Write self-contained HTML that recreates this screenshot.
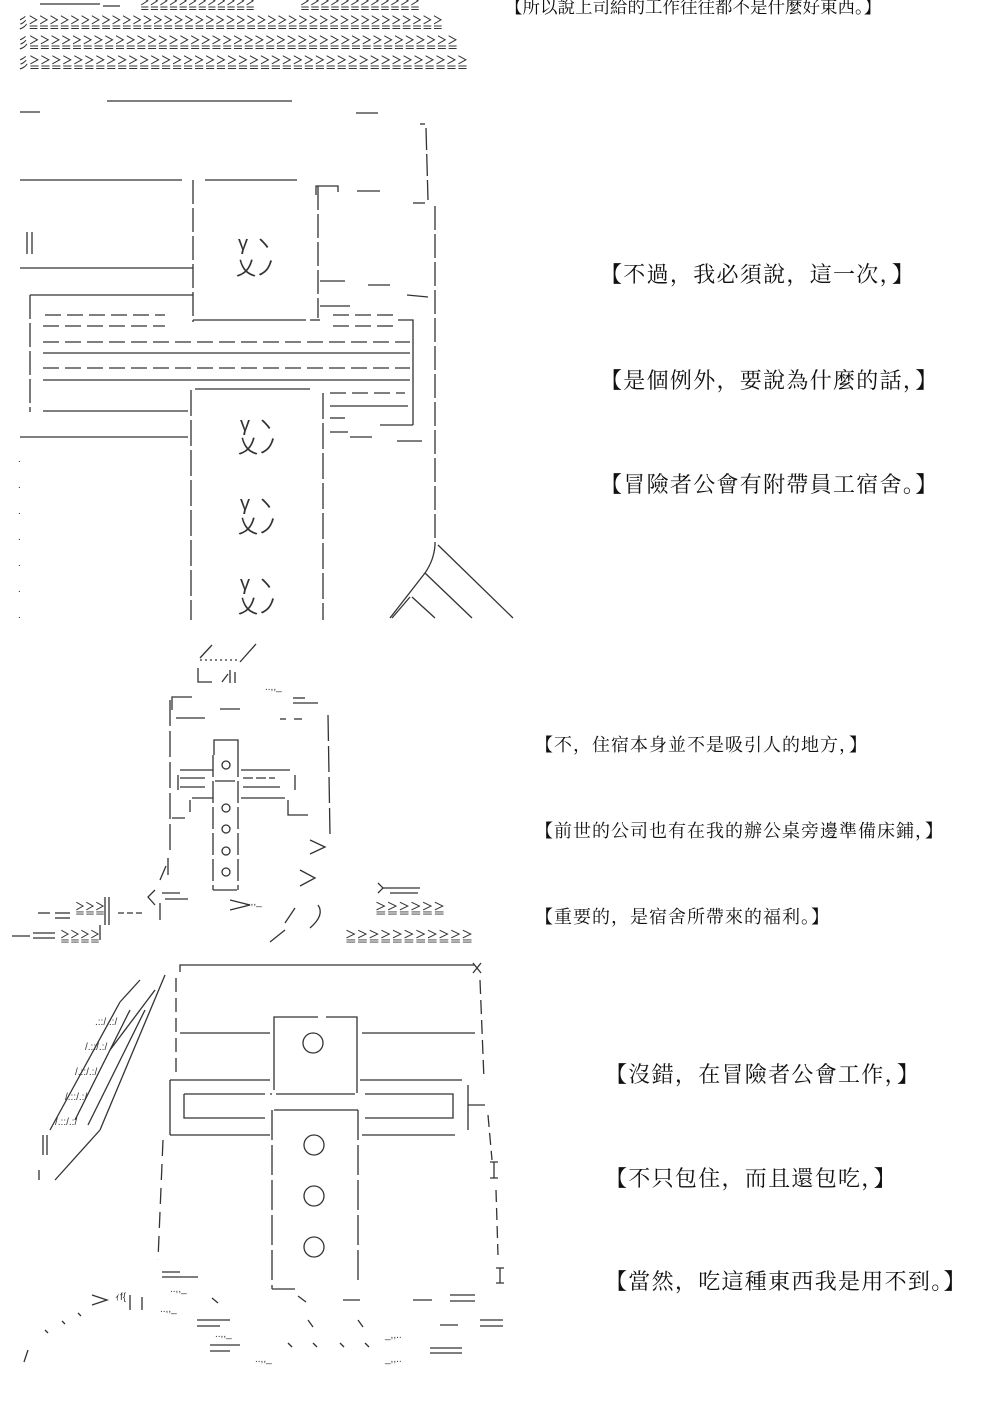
<!DOCTYPE html>
<html><head><meta charset="utf-8">
<style>
html,body{margin:0;padding:0;background:#fff;}
body{width:1000px;height:1427px;position:relative;overflow:hidden;}
.t{position:absolute;font-family:"Liberation Serif","Noto Serif CJK SC","Noto Sans CJK TC",serif;color:#111;white-space:nowrap;}
.big{font-size:22px;letter-spacing:1.3px;}
.mid{font-size:18px;letter-spacing:1px;}
svg{position:absolute;left:0;top:0;}
svg text{font-family:"Liberation Sans","Noto Sans CJK JP",sans-serif;fill:#333;}
</style></head><body>
<div class="t" style="left:505px;top:-6px;font-size:17.5px;">【所以說上司給的工作往往都不是什麼好東西。】</div>

<div class="t big" style="left:600px;top:258px;">【不過，我必須說，這一次，】</div>
<div class="t big" style="left:600px;top:364px;">【是個例外，要說為什麼的話，】</div>
<div class="t big" style="left:600px;top:468px;">【冒險者公會有附帶員工宿舍。】</div>

<div class="t mid" style="left:535px;top:731px;">【不，住宿本身並不是吸引人的地方，】</div>
<div class="t mid" style="left:535px;top:817px;">【前世的公司也有在我的辦公桌旁邊準備床鋪，】</div>
<div class="t mid" style="left:535px;top:903px;">【重要的，是宿舍所帶來的福利。】</div>

<div class="t big" style="left:605px;top:1058px;">【沒錯，在冒險者公會工作，】</div>
<div class="t big" style="left:605px;top:1162px;">【不只包住，而且還包吃，】</div>
<div class="t big" style="left:605px;top:1265px;">【當然，吃這種東西我是用不到。】</div>

<svg width="1000" height="1427" viewBox="0 0 1000 1427">
<g stroke="#333" stroke-width="1.3" fill="none">
<line x1="40" y1="4" x2="100" y2="4"/><line x1="103" y1="6" x2="120" y2="6"/>
<line x1="107" y1="101" x2="292" y2="101"/>
<line x1="20" y1="112" x2="40" y2="112"/><line x1="356" y1="113" x2="378" y2="113"/>
<line x1="420" y1="124" x2="425" y2="124"/>
<line x1="426" y1="128" x2="428" y2="200" stroke-dasharray="22,4"/>
<line x1="435" y1="206" x2="435" y2="545" stroke-dasharray="24,4"/>
<line x1="20" y1="180" x2="182" y2="180"/><line x1="205" y1="180" x2="297" y2="180"/>
<line x1="193" y1="180" x2="193" y2="322" stroke-dasharray="24,4"/>
<line x1="27" y1="232" x2="27" y2="254"/><line x1="32" y1="232" x2="32" y2="254"/>
<line x1="20" y1="268" x2="193" y2="268"/>
<line x1="30" y1="295" x2="193" y2="295"/>
<line x1="30" y1="295" x2="30" y2="412" stroke-dasharray="24,4"/>
<line x1="193" y1="320" x2="306" y2="320"/><line x1="310" y1="320" x2="320" y2="320"/>
<line x1="318" y1="186" x2="318" y2="318" stroke-dasharray="24,4"/>
<path d="M316 195 V186 H338 V192"/>
<line x1="357" y1="191" x2="380" y2="191"/>
<line x1="413" y1="203" x2="425" y2="203"/>
<line x1="320" y1="281" x2="345" y2="281"/><line x1="368" y1="285" x2="390" y2="285"/>
<line x1="407" y1="295" x2="428" y2="297"/><line x1="320" y1="306" x2="350" y2="306"/>
<line x1="45" y1="315" x2="165" y2="315" stroke-dasharray="16,6"/>
<line x1="43" y1="326" x2="165" y2="326" stroke-dasharray="16,6"/>
<line x1="333" y1="315" x2="395" y2="315" stroke-dasharray="16,6"/>
<line x1="333" y1="326" x2="398" y2="326" stroke-dasharray="16,6"/>
<path d="M398 320 H413 V425"/>
<line x1="43" y1="342" x2="410" y2="342" stroke-dasharray="16,6"/>
<line x1="43" y1="353" x2="410" y2="353"/>
<line x1="43" y1="368" x2="410" y2="368" stroke-dasharray="16,6"/>
<line x1="43" y1="380" x2="410" y2="380"/>
<line x1="195" y1="389" x2="310" y2="389"/>
<line x1="191" y1="390" x2="191" y2="620" stroke-dasharray="26,4"/>
<line x1="323" y1="393" x2="323" y2="620" stroke-dasharray="26,4"/>
<line x1="43" y1="411" x2="188" y2="411"/><line x1="20" y1="437" x2="188" y2="437"/>
<line x1="330" y1="393" x2="405" y2="393" stroke-dasharray="16,6"/>
<line x1="330" y1="406" x2="408" y2="406"/>
<line x1="330" y1="418" x2="345" y2="418"/><line x1="380" y1="425" x2="413" y2="425"/>
<line x1="330" y1="432" x2="348" y2="432"/><line x1="350" y1="437" x2="372" y2="437"/>
<line x1="397" y1="441" x2="422" y2="441"/>
<path d="M435 545 Q434 560 425 573 L390 618"/>
<line x1="438" y1="545" x2="513" y2="618"/>
<line x1="425" y1="573" x2="472" y2="618"/>
<line x1="412" y1="597" x2="435" y2="618"/>
<line x1="410" y1="597" x2="392" y2="618"/>
<path d="M200 658 L212 645 M240 662 L256 644"/>
<line x1="200" y1="660" x2="240" y2="660" stroke-dasharray="2,3"/>
<path d="M198 668 V682 H212 M222 682 L228 674"/>
<line x1="230" y1="670" x2="230" y2="683"/><line x1="235" y1="672" x2="235" y2="683"/>
<path d="M172 710 V697 H192"/><line x1="220" y1="709" x2="240" y2="709"/>
<line x1="293" y1="698" x2="305" y2="698"/><line x1="293" y1="703" x2="318" y2="703"/>
<line x1="176" y1="718" x2="205" y2="718"/><line x1="280" y1="719" x2="286" y2="719"/><line x1="294" y1="719" x2="302" y2="719"/>
<line x1="170" y1="700" x2="170" y2="855" stroke-dasharray="26,5"/>
<line x1="328" y1="715" x2="330" y2="835" stroke-dasharray="26,5"/>
<path d="M214 755 V740 H238 V755"/>
<line x1="213" y1="755" x2="213" y2="890" stroke-dasharray="22,4"/>
<line x1="238" y1="755" x2="238" y2="890" stroke-dasharray="22,4"/>
<line x1="213" y1="890" x2="237" y2="890"/>
<path d="M180 770 H213 M241 770 H290 M178 775 V790 M295 775 V790"/>
<line x1="180" y1="778" x2="205" y2="778"/><line x1="180" y1="787" x2="205" y2="787"/>
<line x1="215" y1="781" x2="235" y2="781"/>
<line x1="243" y1="778" x2="275" y2="778" stroke-dasharray="10,3"/><line x1="243" y1="787" x2="280" y2="787"/>
<path d="M192 798 H213 M241 798 H285"/>
<path d="M172 818 H185 M190 800 V812 M288 800 V815 H308"/>
<circle cx="226" cy="765" r="4"/><circle cx="226" cy="808" r="4"/><circle cx="226" cy="829" r="4"/><circle cx="226" cy="851" r="4"/><circle cx="226" cy="872" r="4"/>
<path d="M310 840 L325 847 L310 854"/>
<path d="M300 870 L315 878 L300 886"/>
<line x1="168" y1="858" x2="168" y2="875"/><line x1="160" y1="880" x2="166" y2="866"/>
<path d="M155 890 L148 897 L155 905"/>
<line x1="162" y1="893" x2="180" y2="893"/><line x1="165" y1="899" x2="188" y2="899"/>
<path d="M230 900 L250 905 L230 910"/>
<line x1="295" y1="908" x2="285" y2="923"/><line x1="285" y1="930" x2="270" y2="942"/>
<path d="M318 905 Q325 915 310 928"/>
<path d="M378 893 L383 888 L378 883"/><line x1="383" y1="888" x2="420" y2="888"/><line x1="390" y1="893" x2="418" y2="893"/>
<line x1="38" y1="913" x2="50" y2="913"/><line x1="55" y1="913" x2="70" y2="913"/><line x1="55" y1="918" x2="70" y2="918"/>
<line x1="105" y1="897" x2="105" y2="925"/><line x1="109" y1="897" x2="109" y2="925"/>
<line x1="118" y1="913" x2="143" y2="913" stroke-dasharray="6,3"/>
<line x1="160" y1="903" x2="160" y2="920"/>
<line x1="12" y1="936" x2="30" y2="936"/><line x1="33" y1="933" x2="55" y2="933"/><line x1="33" y1="938" x2="55" y2="938"/>
<line x1="100" y1="925" x2="100" y2="940"/>
<path d="M180 972 V965 H475"/>
<path d="M473 963 L481 973 M481 963 L473 973"/>
<line x1="176" y1="978" x2="176" y2="1075" stroke-dasharray="14,6"/>
<line x1="170" y1="1080" x2="170" y2="1135"/>
<line x1="163" y1="1140" x2="158" y2="1260" stroke-dasharray="16,8"/>
<line x1="480" y1="980" x2="484" y2="1080" stroke-dasharray="14,6"/>
<line x1="488" y1="1115" x2="492" y2="1160" stroke-dasharray="12,6"/>
<line x1="496" y1="1190" x2="498" y2="1255" stroke-dasharray="12,6"/>
<path d="M494 1162 V1178 M490 1162 H498 M490 1178 H498"/>
<path d="M500 1268 V1283 M496 1268 H504 M496 1283 H504"/>
<path d="M274 1090 V1017 H318 M326 1017 H357 V1093 M276 1094 H355"/>
<circle cx="313" cy="1043" r="10"/>
<path d="M180 1033 H270 M362 1033 H475"/>
<path d="M170 1080 H270 M360 1080 H462"/>
<path d="M184 1094 H265 M270 1094 H272"/><path d="M184 1094 V1118 H265"/>
<path d="M365 1094 H453 V1118 H365"/>
<path d="M170 1135 H270 M362 1135 H455"/>
<path d="M468 1085 V1130 M468 1105 H485"/>
<line x1="272" y1="1110" x2="272" y2="1289" stroke-dasharray="30,5"/>
<line x1="358" y1="1110" x2="358" y2="1283" stroke-dasharray="30,5"/>
<path d="M274 1110 H358"/>
<line x1="272" y1="1289" x2="295" y2="1289"/>
<circle cx="314" cy="1145" r="10"/><circle cx="314" cy="1196" r="10"/><circle cx="314" cy="1247" r="10"/>
<line x1="140" y1="980" x2="120" y2="1002"/>
<line x1="155" y1="990" x2="110" y2="1050"/>
<line x1="165" y1="975" x2="100" y2="1130"/>
<line x1="120" y1="1002" x2="50" y2="1130"/>
<line x1="100" y1="1130" x2="55" y2="1180"/>
<line x1="130" y1="1010" x2="75" y2="1120"/>
<line x1="145" y1="1010" x2="88" y2="1125"/>
<line x1="43" y1="1135" x2="43" y2="1155"/><line x1="47" y1="1135" x2="47" y2="1155"/>
<line x1="39" y1="1170" x2="39" y2="1180"/>
<path d="M92 1295 L107 1300 L92 1305"/>
<line x1="130" y1="1295" x2="130" y2="1310"/><line x1="142" y1="1297" x2="142" y2="1310"/>
<line x1="162" y1="1272" x2="180" y2="1272"/><line x1="162" y1="1277" x2="198" y2="1277"/>
<line x1="212" y1="1298" x2="218" y2="1303"/>
<line x1="298" y1="1296" x2="306" y2="1302"/>
<line x1="343" y1="1300" x2="360" y2="1300"/><line x1="413" y1="1300" x2="432" y2="1300"/>
<line x1="450" y1="1295" x2="475" y2="1295"/><line x1="450" y1="1301" x2="475" y2="1301"/>
<line x1="197" y1="1320" x2="230" y2="1320"/><line x1="197" y1="1326" x2="220" y2="1326"/>
<line x1="308" y1="1320" x2="313" y2="1327"/><line x1="358" y1="1320" x2="363" y2="1327"/>
<line x1="440" y1="1325" x2="458" y2="1325"/>
<line x1="480" y1="1320" x2="503" y2="1320"/><line x1="480" y1="1326" x2="503" y2="1326"/>
<line x1="210" y1="1345" x2="240" y2="1345"/><line x1="210" y1="1351" x2="230" y2="1351"/>
<line x1="288" y1="1343" x2="292" y2="1347"/><line x1="313" y1="1343" x2="317" y2="1347"/>
<line x1="340" y1="1343" x2="344" y2="1347"/><line x1="365" y1="1343" x2="369" y2="1347"/>
<line x1="430" y1="1348" x2="462" y2="1348"/><line x1="430" y1="1353" x2="462" y2="1353"/>
<line x1="28" y1="1350" x2="24" y2="1362"/>
<line x1="45" y1="1330" x2="48" y2="1333"/><line x1="62" y1="1321" x2="65" y2="1324"/><line x1="78" y1="1313" x2="81" y2="1316"/>
</g>
<g font-size="15">
<text x="140" y="9" textLength="115" lengthAdjust="spacingAndGlyphs">≧≧≧≧≧≧≧≧≧≧≧≧</text>
<text x="300" y="9" textLength="120" lengthAdjust="spacingAndGlyphs">≧≧≧≧≧≧≧≧≧≧≧≧</text>
<text x="18" y="28" textLength="425" lengthAdjust="spacingAndGlyphs">彡≧≧≧≧≧≧≧≧≧≧≧≧≧≧≧≧≧≧≧≧≧≧≧≧≧≧≧≧≧≧≧≧≧≧≧≧≧≧≧≧</text>
<text x="18" y="48" textLength="440" lengthAdjust="spacingAndGlyphs">彡≧≧≧≧≧≧≧≧≧≧≧≧≧≧≧≧≧≧≧≧≧≧≧≧≧≧≧≧≧≧≧≧≧≧≧≧≧≧≧≧</text>
<text x="18" y="68" textLength="450" lengthAdjust="spacingAndGlyphs">彡≧≧≧≧≧≧≧≧≧≧≧≧≧≧≧≧≧≧≧≧≧≧≧≧≧≧≧≧≧≧≧≧≧≧≧≧≧≧≧≧</text>
</g>
<g font-size="14">
<text x="75" y="914" textLength="30" lengthAdjust="spacingAndGlyphs">≧≧≧</text>
<text x="60" y="942" textLength="40" lengthAdjust="spacingAndGlyphs">≧≧≧≧</text>
<text x="375" y="914" textLength="70" lengthAdjust="spacingAndGlyphs">≧≧≧≧≧≧</text>
<text x="345" y="942" textLength="128" lengthAdjust="spacingAndGlyphs">≧≧≧≧≧≧≧≧≧≧≧</text>
</g>
<g font-size="20" fill="#333">
<text x="238" y="250">γ ヽ</text><text x="236" y="275">乂ノ</text>
<text x="240" y="431">γ ヽ</text><text x="238" y="453">乂ノ</text>
<text x="240" y="510">γ ヽ</text><text x="238" y="533">乂ノ</text>
<text x="240" y="590">γ ヽ</text><text x="238" y="613">乂ノ</text>
</g>
<g font-size="10" fill="#444">
<text x="18" y="462">.</text><text x="18" y="488">.</text><text x="18" y="514">.</text><text x="18" y="540">.</text><text x="18" y="566">.</text><text x="18" y="592">.</text><text x="18" y="618">.</text>
<text x="95" y="1025">.::/.::/</text><text x="85" y="1050">/.::/.:/</text><text x="75" y="1075">/.::/.:/</text><text x="65" y="1100">/.::/.:/</text><text x="55" y="1125">/.::/.:/</text>
<text x="115" y="1300">ｨf{</text><text x="170" y="1292">..,,_</text><text x="160" y="1312">..,,_</text>
<text x="215" y="1337">..,,_</text><text x="255" y="1362">..,,_</text><text x="385" y="1338">_,,..</text><text x="385" y="1362">_,,..</text>
<text x="265" y="690">..,,_</text><text x="245" y="905">..,,_</text>
</g>
</svg>
</body></html>
